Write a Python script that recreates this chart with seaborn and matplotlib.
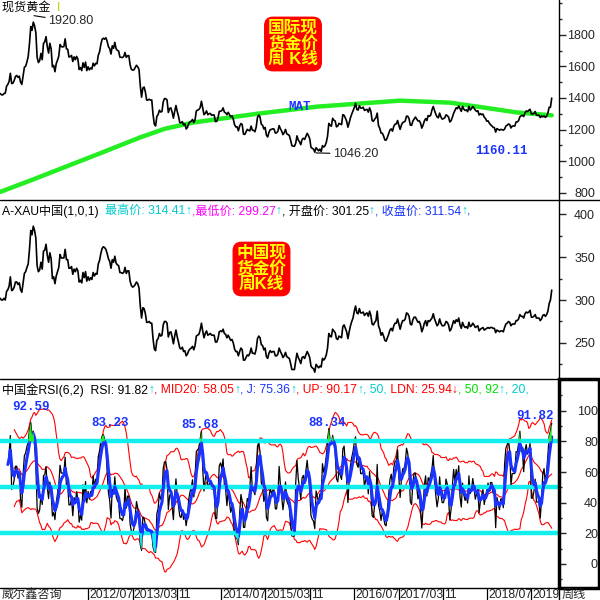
import pandas as pd
import matplotlib
matplotlib.use("Agg")
import matplotlib.pyplot as plt
from matplotlib.lines import Line2D
from matplotlib.patches import Rectangle
from matplotlib.ticker import MultipleLocator
import seaborn as sns

# weekly closes, spot gold USD/oz (one list per year, Friday weeks from 2011-03-04)
gold_2011 = [1428, 1420, 1419, 1428,
             1430, 1474, 1486, 1504, 1556,
             1491, 1493, 1511, 1536,
             1542, 1530, 1538, 1500,
             1486, 1542, 1594, 1601, 1628,
             1663, 1744, 1852, 1828,
             1880, 1856, 1814, 1658, 1624,
             1636, 1682, 1642, 1745,
             1755, 1788, 1724, 1684,
             1746, 1711, 1597, 1606, 1566]
gold_2012 = [1617, 1639, 1665, 1738,
             1725, 1723, 1725, 1774,
             1711, 1708, 1659, 1662, 1669,
             1631, 1660, 1642, 1663,
             1646, 1580, 1592, 1573,
             1622, 1593, 1627, 1573, 1597,
             1578, 1590, 1583, 1620,
             1603, 1619, 1616, 1670, 1691,
             1738, 1771, 1778, 1772,
             1781, 1758, 1724, 1712,
             1678, 1730, 1714, 1752, 1712,
             1701, 1697, 1658, 1657]
gold_2013 = [1656, 1662, 1688, 1657,
             1667, 1668, 1610, 1581,
             1576, 1578, 1592, 1607, 1597,
             1580, 1477, 1405, 1463,
             1469, 1437, 1386, 1387, 1392,
             1386, 1387, 1296, 1234,
             1223, 1283, 1295, 1322,
             1311, 1314, 1375, 1396, 1395,
             1387, 1308, 1333, 1337,
             1310, 1272, 1315, 1352,
             1314, 1284, 1244, 1243, 1250,
             1229, 1236, 1204, 1213]
gold_2014 = [1238, 1248, 1253, 1264, 1244,
             1263, 1318, 1323, 1327,
             1339, 1379, 1335, 1294,
             1303, 1318, 1294, 1300,
             1302, 1290, 1293, 1292, 1250,
             1252, 1274, 1315, 1316,
             1320, 1337, 1310, 1306,
             1294, 1309, 1295, 1280, 1287,
             1266, 1231, 1216, 1218,
             1192, 1222, 1238, 1231, 1171,
             1169, 1185, 1201, 1195,
             1192, 1222, 1196, 1195]
gold_2015 = [1186, 1216, 1277, 1292, 1279,
             1234, 1227, 1204, 1213,
             1165, 1153, 1182, 1199,
             1201, 1205, 1203, 1178,
             1179, 1189, 1225, 1205, 1190,
             1168, 1180, 1201, 1173,
             1168, 1162, 1133, 1098, 1095,
             1094, 1113, 1160, 1134,
             1122, 1104, 1137, 1145,
             1137, 1156, 1176, 1162, 1142,
             1088, 1081, 1076, 1057,
             1085, 1075, 1065, 1076]
gold_2016 = [1061, 1098, 1089, 1097, 1118,
             1157, 1239, 1227, 1221,
             1271, 1259, 1254, 1217,
             1222, 1239, 1235, 1231, 1294,
             1290, 1273, 1252, 1215,
             1243, 1275, 1298, 1318,
             1339, 1366, 1327, 1323, 1351,
             1336, 1336, 1341, 1321,
             1325, 1328, 1310, 1337, 1316,
             1257, 1252, 1266, 1275,
             1304, 1225, 1208, 1178,
             1177, 1159, 1134, 1133, 1151]
gold_2017 = [1173, 1197, 1204, 1190,
             1220, 1234, 1236, 1257,
             1226, 1201, 1229, 1244, 1248,
             1254, 1285, 1284, 1268,
             1228, 1227, 1254, 1266,
             1279, 1266, 1254, 1256, 1241,
             1209, 1228, 1254, 1269,
             1257, 1289, 1284, 1291,
             1325, 1346, 1320, 1297, 1280,
             1274, 1304, 1280, 1266,
             1269, 1274, 1293, 1288,
             1279, 1248, 1256, 1278, 1303]
gold_2018 = [1320, 1338, 1332, 1349,
             1333, 1315, 1347, 1329,
             1321, 1324, 1313, 1347, 1323,
             1332, 1346, 1336, 1323,
             1315, 1319, 1292, 1301,
             1294, 1298, 1278, 1270, 1253,
             1255, 1241, 1230, 1223,
             1214, 1212, 1184, 1206, 1201,
             1196, 1201, 1199, 1196,
             1203, 1222, 1227, 1235,
             1232, 1210, 1222, 1223, 1222,
             1248, 1248, 1257, 1281]
gold_2019 = [1287, 1290, 1282, 1305,
             1318, 1314, 1322, 1328,
             1299, 1298, 1302, 1314, 1292,
             1290, 1291, 1276, 1286,
             1280, 1286, 1277, 1284, 1305,
             1341, 1341, 1399]

# weekly closes, China gold CNY/g
cny_2011 = [302, 300, 300, 302,
            300, 310, 312, 316, 327,
            311, 312, 315, 321,
            321, 318, 320, 312,
            309, 320, 331, 333, 338,
            342, 359, 381, 376,
            386, 381, 372, 340, 333,
            335, 344, 336, 357,
            358, 365, 352, 344,
            355, 348, 325, 327, 319]
cny_2012 = [328, 333, 338, 353,
            349, 349, 349, 359,
            347, 347, 337, 337, 339,
            330, 336, 333, 337,
            334, 321, 323, 320,
            332, 326, 333, 322, 327,
            323, 326, 324, 332,
            328, 331, 330, 342, 346,
            354, 360, 362, 361,
            359, 354, 348, 345,
            337, 347, 344, 351, 343,
            341, 340, 332, 332]
cny_2013 = [331, 332, 338, 331,
            334, 334, 322, 317,
            315, 316, 318, 321, 319,
            314, 293, 279, 291,
            290, 284, 274, 274, 275,
            273, 273, 255, 243,
            241, 253, 255, 261,
            258, 259, 271, 275, 275,
            273, 257, 262, 263,
            257, 249, 258, 265,
            257, 251, 244, 243, 245,
            240, 241, 235, 237]
cny_2014 = [241, 243, 244, 246, 242,
            247, 258, 259, 260,
            265, 273, 264, 256,
            261, 264, 259, 260,
            261, 259, 259, 259, 251,
            251, 255, 263, 264,
            263, 266, 261, 260,
            256, 259, 256, 253, 254,
            250, 243, 240, 240,
            235, 240, 244, 242, 230,
            230, 233, 236, 235,
            238, 244, 238, 238]
cny_2015 = [237, 243, 255, 258, 256,
            248, 247, 242, 244,
            234, 232, 238, 241,
            239, 240, 240, 235,
            235, 237, 244, 240, 237,
            233, 235, 239, 234,
            233, 232, 226, 219, 219,
            219, 229, 238, 233,
            230, 226, 233, 234,
            232, 236, 240, 237, 233,
            223, 221, 220, 216,
            225, 223, 221, 223]
cny_2016 = [222, 232, 230, 232, 236,
            244, 261, 258, 257,
            266, 264, 262, 255,
            254, 258, 257, 256, 269,
            271, 267, 263, 255,
            263, 270, 275, 279,
            287, 293, 285, 284, 290,
            285, 285, 286, 282,
            284, 285, 281, 287, 282,
            272, 271, 274, 276,
            287, 270, 266, 259,
            262, 258, 253, 252, 256]
cny_2017 = [260, 265, 267, 264,
            270, 273, 273, 278,
            272, 266, 272, 276, 276,
            278, 285, 284, 281,
            272, 271, 277, 280,
            280, 277, 274, 275, 271,
            263, 267, 273, 276,
            270, 276, 275, 277,
            279, 284, 278, 274, 270,
            272, 278, 273, 270,
            270, 271, 275, 274,
            271, 264, 266, 271, 276]
cny_2018 = [273, 277, 275, 279,
            271, 267, 274, 270,
            268, 269, 267, 274, 269,
            270, 273, 271, 268,
            269, 270, 264, 266,
            267, 268, 265, 266, 267,
            268, 267, 268, 268,
            267, 267, 262, 265, 264,
            263, 264, 264, 263,
            268, 272, 273, 275,
            274, 270, 272, 272, 272,
            276, 276, 278, 283]
cny_2019 = [281, 281, 279, 284,
            286, 285, 286, 288,
            280, 280, 281, 283, 279,
            279, 279, 276, 278,
            282, 283, 281, 283, 287,
            296, 300, 311.54]

# MAT long moving average
mat_dates = ["2011-03-04", "2011-09-01", "2012-09-04", "2013-04-11", "2013-08-25",
             "2014-01-30", "2014-06-25", "2015-01-15", "2015-12-10", "2017-03-10",
             "2017-12-10", "2018-06-08", "2018-12-13", "2019-06-21"]
mat_vals = [805, 884, 1050, 1150, 1205, 1245, 1268, 1300, 1345, 1383, 1370, 1340, 1308, 1290]

tick_dates = ["2012-07-01", "2013-03-01", "2013-11-01", "2014-07-01", "2015-03-01", "2015-11-01",
              "2016-07-01", "2017-03-01", "2017-11-01", "2018-07-01", "2019-03-01"]
tick_labels = ["2012/07", "2013/03", "11", "2014/07", "2015/03", "11",
               "2016/07", "2017/03", "11", "2018/07", "2019"]

gold = gold_2011 + gold_2012 + gold_2013 + gold_2014 + gold_2015 + gold_2016 + gold_2017 + gold_2018 + gold_2019
cny = cny_2011 + cny_2012 + cny_2013 + cny_2014 + cny_2015 + cny_2016 + cny_2017 + cny_2018 + cny_2019
assert len(gold) == len(cny), (len(gold), len(cny))

df = pd.DataFrame({"week": pd.date_range("2011-03-04", periods=len(gold), freq="W-FRI"),
                   "gold": gold, "cny": cny})

# RSI(6) the way the trading software does it: SMA(x,6,1) smoothing
diff = df["cny"].diff()
gain = diff.clip(lower=0).ewm(alpha=1 / 6, adjust=False, min_periods=6).mean()
move = diff.abs().ewm(alpha=1 / 6, adjust=False, min_periods=6).mean()
df["rsi"] = 100 * gain / move
df["j"] = df["rsi"].ewm(span=4, adjust=False).mean()
df["mid"] = df["rsi"].rolling(20, min_periods=6).mean()
sd = df["rsi"].rolling(20, min_periods=6).std(ddof=0)
df["up"] = df["mid"] + 2 * sd
df["ldn"] = df["mid"] - 2 * sd

GREEN = "#22ee22"
CYAN = "#11eeee"
CYAN_TXT = "#00cccc"
BLUE = "#1a33ff"
RED = "#ff0000"

sns.set_style("white")
plt.rcParams["font.family"] = ["Liberation Sans", "Noto Sans CJK SC", "DejaVu Sans"]
plt.rcParams["axes.unicode_minus"] = False

fig = plt.figure(figsize=(6, 6), dpi=100)
W = H = 600.0


def box(top, bottom):
    return [0, 1 - bottom / H, 559 / W, (bottom - top) / H]


ax1 = fig.add_axes(box(0, 200))
ax2 = fig.add_axes(box(200, 379))
ax3 = fig.add_axes(box(379, 588))
axd = fig.add_axes(box(588, 600))

x0, x1 = pd.Timestamp("2011-03-03"), pd.Timestamp("2019-07-31")


def style(ax, lo, hi, major, minor, pad):
    ax.set_xlim(x0, x1)
    ax.set_ylim(lo, hi)
    ax.set_xlabel("")
    ax.set_ylabel("")
    ax.set_xticks([])
    for s in ax.spines.values():
        s.set_visible(False)
    ax.yaxis.tick_right()
    ax.set_yticks(major)
    ax.set_yticklabels([str(v) for v in major], ha="right")
    ax.yaxis.set_minor_locator(MultipleLocator(minor))
    ax.tick_params(axis="y", which="major", length=5, width=1, pad=pad, labelsize=9)
    ax.tick_params(axis="y", which="minor", length=2, width=1)


# top panel: spot gold
sns.lineplot(x=pd.to_datetime(mat_dates), y=mat_vals, ax=ax1, color=GREEN, lw=3.2, zorder=1)
sns.lineplot(data=df, x="week", y="gold", ax=ax1, color="black", lw=1.2, zorder=2)
style(ax1, 754, 2020, [800, 1000, 1200, 1400, 1600, 1800], 100, 21)
ax1.annotate("1920.80", xy=(pd.Timestamp("2011-09-06"), 1920.8), xytext=(pd.Timestamp("2011-11-24"), 1884),
             fontsize=9, ha="left", va="center",
             arrowprops=dict(arrowstyle="-", color="black", lw=0.8, shrinkA=0, shrinkB=0))
ax1.annotate("1046.20", xy=(pd.Timestamp("2015-12-03"), 1052), xytext=(pd.Timestamp("2016-03-07"), 1046),
             fontsize=9, ha="left", va="center",
             arrowprops=dict(arrowstyle="-", color="black", lw=0.8, shrinkA=0, shrinkB=0))
ax1.text(pd.Timestamp("2018-09-15"), 1065, "1160.11", color=BLUE, fontsize=9, fontweight="bold",
         family="Liberation Mono", ha="center", va="center")
ax1.text(pd.Timestamp("2015-09-04"), 1340, "MAT", color=BLUE, fontsize=9, fontweight="bold",
         family="Liberation Mono", ha="center", va="center")

# middle panel: China gold
sns.lineplot(data=df, x="week", y="cny", ax=ax2, color="black", lw=1.2)
style(ax2, 208, 416.5, [250, 300, 350, 400], 25, 21)

# bottom panel: RSI
for col in ["up", "mid", "ldn"]:
    sns.lineplot(data=df, x="week", y=col, ax=ax3, color=RED, lw=0.8, zorder=1)
sns.lineplot(data=df, x="week", y="rsi", ax=ax3, color="black", lw=0.9, zorder=2)
for lvl in [80, 50, 20]:
    ax3.axhline(lvl, color=CYAN, lw=3.2, zorder=3)
sns.lineplot(data=df, x="week", y="j", ax=ax3, color=BLUE, lw=2.2, zorder=4)
ax3.fill_between(df["week"], 80, df["rsi"], where=df["rsi"] > 80, interpolate=True,
                 color=GREEN, lw=0, zorder=5)
ax3.fill_between(df["week"], 20, df["rsi"], where=df["rsi"] < 20, interpolate=True,
                 color=CYAN, lw=0, zorder=5)
style(ax3, -15.7, 120.7, [0, 20, 40, 60, 80, 100], 10, 23)
peak_dates = ["2011-08-19", "2012-10-26", "2014-03-07", "2016-02-02", "2019-03-22"]
peak_vals = [102.1, 92.3, 90.7, 92.3, 96.5]
peak_text = ["92.59", "83.23", "85.68", "88.34", "91.82"]
for d, v, s in zip(peak_dates, peak_vals, peak_text):
    ax3.text(pd.Timestamp(d), v, s, color=BLUE, fontsize=9, fontweight="bold",
             family="Liberation Mono", ha="center", va="center", zorder=6)

# date strip
axd.set_xlim(x0, x1)
axd.set_ylim(0, 1)
axd.axis("off")
axd.patch.set_alpha(0)
for d, s in zip(tick_dates, tick_labels):
    d = pd.Timestamp(d)
    axd.axvline(d, color="black", lw=0.9)
    axd.text(d + pd.Timedelta(days=5), 0.45, s, fontsize=8.7, ha="left", va="center", clip_on=True)

fig.text(2 / W, 1 - 595 / H, "威尔鑫咨询", fontsize=8.7, ha="left", va="center")
fig.text(562 / W, 1 - 595 / H, "周线", fontsize=8.7, ha="left", va="center")

# frame lines
for y in [200, 379, 588]:
    fig.add_artist(Line2D([0, 1], [1 - y / H] * 2, color="black", lw=1))
fig.add_artist(Line2D([559 / W] * 2, [0, 1], color="black", lw=1))
fig.add_artist(Rectangle((559 / W, 1 - 588 / H), 40 / W, 209 / H, fill=False, lw=2.5,
                         ec="black", transform=fig.transFigure))

# red title boxes
fig.text(293 / W, 1 - 44 / H, "国际现\n货金价\n周 K线", color="#ffff00", fontsize=12, fontweight="bold",
         ha="center", va="center", linespacing=1.0,
         bbox=dict(boxstyle="round,pad=0.2,rounding_size=0.5", fc=RED, ec=RED))
fig.text(261.5 / W, 1 - 269 / H, "中国现\n货金价\n周K线", color="#ffff00", fontsize=12, fontweight="bold",
         ha="center", va="center", linespacing=1.0,
         bbox=dict(boxstyle="round,pad=0.2,rounding_size=0.5", fc=RED, ec=RED))

renderer = fig.canvas.get_renderer()


def run_text(y, parts, x=2.0, size=8.7):
    for s, c in parts:
        t = fig.text(x / W, 1 - y / H, s, color=c, fontsize=size, ha="left", va="center")
        x = t.get_window_extent(renderer=renderer).x1


run_text(8, [("现货黄金  ", "black"), ("I", "#c8c800")])
run_text(211, [("A-XAU中国(1,0,1)  ", "black"), ("最高价: 314.41", CYAN_TXT), ("↑", CYAN_TXT),
               (",最低价: 299.27", "#ff00ff"), ("↑", CYAN_TXT), (", 开盘价: 301.25", "black"),
               ("↑", CYAN_TXT), (", 收盘价: 311.54", BLUE), ("↑", CYAN_TXT), (",", BLUE)])
run_text(390, [("中国金RSI(6,2)  RSI: 91.82", "black"), ("↑", CYAN_TXT), (", MID20: 58.05", RED),
               ("↑", CYAN_TXT), (", J: 75.36", BLUE), ("↑", CYAN_TXT), (", UP: 90.17", RED),
               ("↑", CYAN_TXT), (", 50,", CYAN_TXT), (" LDN: 25.94", RED), ("↓", RED),
               (", 50, 92", "#00dd00"), ("↑", CYAN_TXT), (", 20,", CYAN_TXT)])

fig.savefig("out.png", dpi=100)
